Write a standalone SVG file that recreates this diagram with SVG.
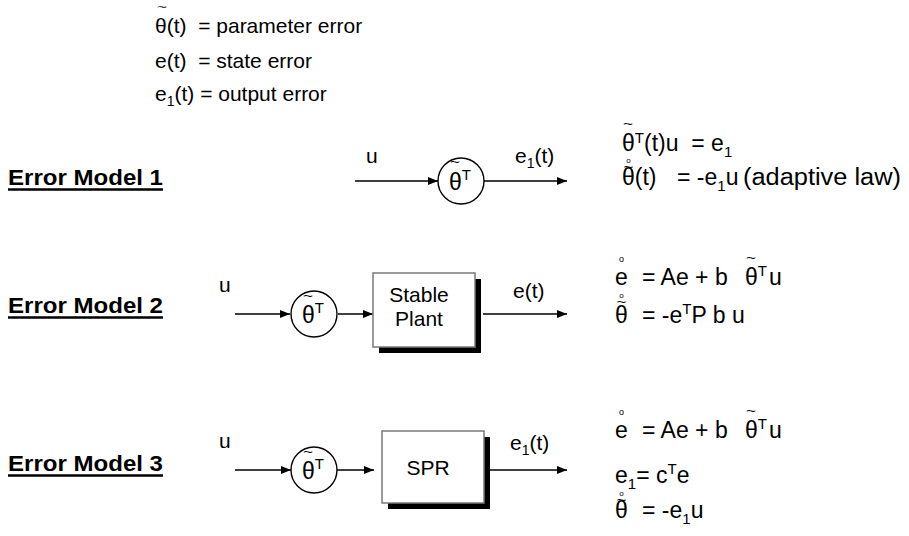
<svg xmlns="http://www.w3.org/2000/svg" width="909" height="536" viewBox="0 0 909 536">
<defs>
<style>
text{font-family:"Liberation Sans",Arial,Helvetica,sans-serif;fill:#000;white-space:pre}
.t{font-size:21px}
.eq{font-size:23px}
.gk{font-size:23px}
.sub{font-size:14px}
.sup{font-size:15px}
.lbl{font-size:22px;font-weight:bold}
.tl{font-size:12px}
.tls{font-size:11px}
.rg{font-size:9px}
.rgs{font-size:8px}
.ul{stroke:#000;stroke-width:2.5}
.ln{stroke:#000;stroke-width:1.4;fill:none}
.circ{stroke:#000;stroke-width:1.4;fill:#fff}
.box{stroke:#7a7a7a;stroke-width:1.5;fill:#fff}
.shadow{fill:#000}
.mid{text-anchor:middle}
</style>
<marker id="arr" viewBox="0 0 10 8" refX="10" refY="4" markerWidth="10" markerHeight="8" markerUnits="userSpaceOnUse" orient="auto">
<path d="M0,0 L10,4 L0,8 z" fill="#000"/>
</marker>
</defs>
<rect width="909" height="536" fill="#fff"/>

<g id="legend">
<text class="tls" x="157" y="10.8" textLength="10" lengthAdjust="spacingAndGlyphs">~</text>
<text class="t" x="155" y="33">θ(t)  = parameter error</text>
<text class="t" x="155" y="68">e(t)  = state error</text>
<text class="t" x="155" y="101">e<tspan class="sub" dy="5">1</tspan><tspan dy="-5">(t) = output error</tspan></text>
</g>

<g id="label1">
<text class="lbl" x="8" y="185" textLength="155" lengthAdjust="spacingAndGlyphs">Error Model 1</text>
<line class="ul" x1="8" y1="189.5" x2="163" y2="189.5"/>
</g>
<g id="label2">
<text class="lbl" x="8" y="313" textLength="155" lengthAdjust="spacingAndGlyphs">Error Model 2</text>
<line class="ul" x1="8" y1="317.5" x2="163" y2="317.5"/>
</g>
<g id="label3">
<text class="lbl" x="8" y="471" textLength="155" lengthAdjust="spacingAndGlyphs">Error Model 3</text>
<line class="ul" x1="8" y1="475.5" x2="163" y2="475.5"/>
</g>

<g id="connectors">
<line class="ln" x1="355" y1="181" x2="438" y2="181" marker-end="url(#arr)"/>
<line class="ln" x1="484" y1="181" x2="567" y2="181" marker-end="url(#arr)"/>
<line class="ln" x1="235" y1="314" x2="290" y2="314" marker-end="url(#arr)"/>
<line class="ln" x1="338" y1="314" x2="373" y2="314" marker-end="url(#arr)"/>
<line class="ln" x1="483" y1="314" x2="567" y2="314" marker-end="url(#arr)"/>
<line class="ln" x1="235" y1="470" x2="291" y2="470" marker-end="url(#arr)"/>
<line class="ln" x1="337" y1="470" x2="374" y2="470" marker-end="url(#arr)"/>
<line class="ln" x1="490" y1="470" x2="567" y2="470" marker-end="url(#arr)"/>
</g>

<g id="m1-labels">
<text class="t" x="366" y="163">u</text>
<text class="t" x="515" y="163">e<tspan class="sub" dy="5">1</tspan><tspan dy="-5">(t)</tspan></text>
</g>
<g id="m1-gain">
<circle class="circ" cx="461" cy="181" r="23"/>
<text class="tl" x="450" y="166.1" textLength="10" lengthAdjust="spacingAndGlyphs">~</text>
<text class="gk" x="449" y="190">θ<tspan class="sup" dy="-10">T</tspan></text>
</g>
<g id="m1-eq">
<text class="tl" x="623" y="127.6" textLength="10" lengthAdjust="spacingAndGlyphs">~</text>
<text class="eq" x="622" y="151">θ<tspan class="sup" dy="-8">T</tspan><tspan dy="8">(t)u  = e</tspan><tspan class="sup" dy="6">1</tspan></text>
<text class="rgs" x="626.2" y="163.1">o</text>
<text class="tl" x="623.4" y="170.6" textLength="10" lengthAdjust="spacingAndGlyphs">~</text>
<text class="eq" x="622" y="185">θ(t)<tspan x="677">= -e</tspan><tspan class="sup" dy="6">1</tspan><tspan dy="-6">u</tspan></text>
<text class="eq" x="743" y="185" textLength="158" lengthAdjust="spacingAndGlyphs">(adaptive law)</text>
</g>

<g id="m2-labels">
<text class="t" x="219" y="292">u</text>
<text class="t" x="513" y="298">e(t)</text>
</g>
<g id="m2-gain">
<circle class="circ" cx="314" cy="314" r="23"/>
<text class="tl" x="303" y="299.6" textLength="10" lengthAdjust="spacingAndGlyphs">~</text>
<text class="gk" x="302" y="323">θ<tspan class="sup" dy="-10">T</tspan></text>
</g>
<g id="m2-plant">
<rect class="shadow" x="379" y="279" width="102" height="74"/>
<rect class="box" x="373" y="273" width="102" height="74"/>
<text class="t mid" x="419" y="302">Stable</text>
<text class="t mid" x="419" y="326">Plant</text>
</g>
<g id="m2-eq">
<text class="rg" x="619" y="261.8">o</text>
<text class="tl" x="746" y="261.6" textLength="10" lengthAdjust="spacingAndGlyphs">~</text>
<text class="eq" x="615" y="285">e<tspan x="642">= Ae + b</tspan><tspan x="745">θ</tspan><tspan class="sup" dy="-9">T</tspan><tspan x="769" dy="9">u</tspan></text>
<text class="rgs" x="619.2" y="297.6">o</text>
<text class="tl" x="616.4" y="305.6" textLength="10" lengthAdjust="spacingAndGlyphs">~</text>
<text class="eq" x="615" y="323">θ<tspan x="642">= -e</tspan><tspan class="sup" dy="-9">T</tspan><tspan dy="9">P b u</tspan></text>
</g>

<g id="m3-labels">
<text class="t" x="219" y="448">u</text>
<text class="t" x="510" y="450">e<tspan class="sub" dy="5">1</tspan><tspan dy="-5">(t)</tspan></text>
</g>
<g id="m3-gain">
<circle class="circ" cx="314" cy="470" r="23"/>
<text class="tl" x="303" y="455.6" textLength="10" lengthAdjust="spacingAndGlyphs">~</text>
<text class="gk" x="302" y="479">θ<tspan class="sup" dy="-10">T</tspan></text>
</g>
<g id="m3-spr">
<rect class="shadow" x="388" y="437" width="102" height="72"/>
<rect class="box" x="382" y="431" width="102" height="72"/>
<text class="t mid" x="428" y="475">SPR</text>
</g>
<g id="m3-eq">
<text class="rg" x="619" y="414.8">o</text>
<text class="tl" x="746" y="414.6" textLength="10" lengthAdjust="spacingAndGlyphs">~</text>
<text class="eq" x="615" y="438">e<tspan x="642">= Ae + b</tspan><tspan x="745">θ</tspan><tspan class="sup" dy="-9">T</tspan><tspan x="769" dy="9">u</tspan></text>
<text class="eq" x="615" y="483">e<tspan class="sup" dy="6">1</tspan><tspan dy="-6">= c</tspan><tspan class="sup" dy="-9">T</tspan><tspan dy="9">e</tspan></text>
<text class="rgs" x="619.2" y="495.6">o</text>
<text class="tl" x="616.4" y="503.6" textLength="10" lengthAdjust="spacingAndGlyphs">~</text>
<text class="eq" x="615" y="518">θ<tspan x="642">= -e</tspan><tspan class="sup" dy="6">1</tspan><tspan dy="-6">u</tspan></text>
</g>
</svg>
